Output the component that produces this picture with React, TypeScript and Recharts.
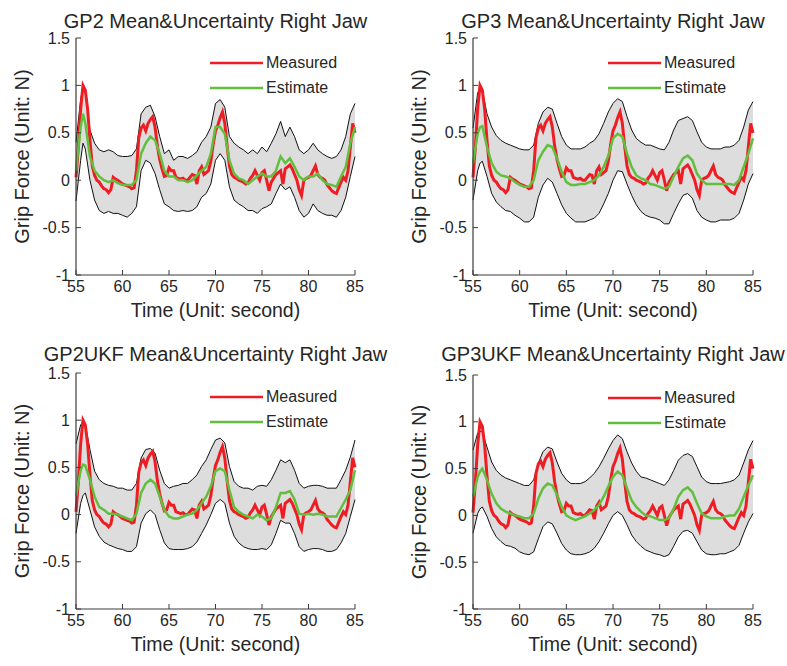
import React from 'react';
import { ComposedChart, Line, Area, XAxis, YAxis, Legend, Label } from 'recharts';

const FONT = '"Liberation Sans", Arial, sans-serif';
const TEXT = '#262626';

// x grid for the estimate / uncertainty series (seconds)
const TIME = [55, 55.5, 55.75, 56,
  56.5, 57, 57.5, 58, 58.5, 59, 59.5, 60, 60.5, 61, 61.5,
  62, 62.5, 63, 63.5, 64, 64.5, 65, 65.5, 66, 66.5, 67, 67.5, 68, 68.5, 69, 69.5,
  70, 70.5, 71, 71.5, 72, 72.5, 73, 73.5, 74, 74.5, 75, 75.5, 76, 76.5, 77, 77.5,
  78, 78.5, 79, 79.5, 80, 80.5, 81, 81.5, 82, 82.5, 83, 83.5, 84, 84.5, 85];

// measured grip force, sampled every 0.25 s from 55 to 85
const MEASURED = [
  0.03, 0.35, 0.75, 1.0,
  0.95, 0.75, 0.42, 0.15,
  0.05, 0.0, -0.02, -0.06,
  -0.09, -0.1, -0.13, -0.1,
  0.03, 0.01, 0.0, -0.02,
  -0.04, -0.05, -0.06, -0.07,
  -0.09, -0.08, 0.1, 0.45,
  0.55, 0.58, 0.52, 0.6,
  0.64, 0.67, 0.56, 0.36,
  0.22, 0.12, 0.04, 0.05,
  0.13, 0.1, 0.1, 0.03,
  0.02, 0.01, 0.02, 0.0,
  0.0, 0.03, 0.06, 0.05,
  -0.04, 0.1, 0.14, 0.06,
  0.08, 0.1, 0.2, 0.38,
  0.52, 0.58, 0.66, 0.72,
  0.6, 0.36, 0.15, 0.06,
  0.03, 0.02, 0.0, -0.01,
  -0.02, -0.04, -0.03, 0.02,
  0.05, 0.1, 0.05, 0.0,
  0.08, 0.1, 0.0, -0.11,
  -0.02, 0.02, 0.06, 0.08,
  0.1, -0.04, 0.12, 0.14,
  0.16, 0.12, 0.06, 0.0,
  -0.1, -0.16, 0.0, 0.02,
  0.03, 0.05, 0.1, 0.15,
  0.06, 0.03, 0.02, 0.0,
  -0.05, -0.08, -0.11, -0.13,
  -0.14, -0.08, -0.02, 0.03,
  0.0, 0.1, 0.35, 0.6,
  0.5];
const MEAS_TIME = MEASURED.map((_, i) => 55 + i * 0.25);

// GP2
const GP2_EST = [0.1, 0.56, 0.7, 0.6,
  0.25, 0.1, 0.04, 0.0, -0.02, 0.0, -0.03, -0.05, -0.05, -0.05, 0.0,
  0.28, 0.39, 0.46, 0.42, 0.28, 0.1, 0.04, 0.04, 0.0, 0.0, -0.02, 0.0, 0.05, 0.1, 0.14, 0.28,
  0.56, 0.56, 0.49, 0.21, 0.07, 0.02, 0.0, -0.04, 0.0, 0.04, 0.07, 0.04, 0.04, 0.1, 0.25, 0.18,
  0.23, 0.14, 0.04, 0.0, 0.04, 0.04, 0.07, 0.0, -0.04, -0.05, -0.07, 0.04, 0.14, 0.39, 0.56];
const GP2_HI = [0.4, 0.85, 1.0, 0.95,
  0.53, 0.39, 0.32, 0.3, 0.32, 0.3, 0.26, 0.25, 0.25, 0.26, 0.33,
  0.7, 0.77, 0.79, 0.67, 0.46, 0.28, 0.32, 0.21, 0.25, 0.25, 0.23, 0.26, 0.3, 0.4, 0.46, 0.56,
  0.81, 0.85, 0.77, 0.46, 0.39, 0.35, 0.32, 0.28, 0.32, 0.28, 0.35, 0.3, 0.39, 0.49, 0.62, 0.46,
  0.56, 0.46, 0.32, 0.28, 0.32, 0.39, 0.32, 0.28, 0.25, 0.23, 0.25, 0.32, 0.46, 0.7, 0.81];
const GP2_LO = [-0.22, 0.21, 0.39, 0.33,
  0.0, -0.21, -0.32, -0.35, -0.33, -0.35, -0.35, -0.37, -0.39, -0.35, -0.28,
  0.1, 0.21, 0.18, 0.07, -0.1, -0.25, -0.28, -0.32, -0.33, -0.32, -0.33, -0.32, -0.28, -0.18, -0.14, -0.04,
  0.21, 0.28, 0.21, -0.07, -0.21, -0.25, -0.28, -0.32, -0.32, -0.35, -0.3, -0.28, -0.25, -0.14, -0.04, -0.1,
  -0.07, -0.18, -0.32, -0.39, -0.35, -0.25, -0.32, -0.35, -0.37, -0.37, -0.39, -0.32, -0.18, 0.04, 0.25];

// GP3
const GP3_EST = [0.18, 0.49, 0.56, 0.57,
  0.35, 0.18, 0.09, 0.05, 0.04, 0.02, -0.02, -0.05, -0.07, -0.07, 0.0,
  0.21, 0.3, 0.37, 0.35, 0.23, 0.09, -0.02, -0.05, -0.05, -0.04, -0.04, -0.02, 0.0, 0.05, 0.14, 0.26,
  0.44, 0.49, 0.46, 0.28, 0.14, 0.05, 0.02, 0.0, -0.04, -0.05, -0.07, -0.09, -0.07, 0.04, 0.14, 0.23,
  0.26, 0.21, 0.07, 0.0, -0.04, -0.04, -0.04, -0.04, -0.04, -0.04, -0.05, 0.0, 0.14, 0.28, 0.44];
const GP3_HI = [0.55, 0.92, 0.97, 0.95,
  0.7, 0.56, 0.47, 0.42, 0.39, 0.37, 0.35, 0.33, 0.32, 0.32, 0.37,
  0.6, 0.72, 0.77, 0.75, 0.6, 0.46, 0.37, 0.33, 0.33, 0.33, 0.35, 0.39, 0.42, 0.49, 0.6, 0.72,
  0.81, 0.86, 0.83, 0.67, 0.53, 0.44, 0.4, 0.37, 0.37, 0.35, 0.33, 0.32, 0.4, 0.53, 0.63, 0.65,
  0.67, 0.63, 0.51, 0.4, 0.35, 0.33, 0.33, 0.33, 0.35, 0.35, 0.37, 0.42, 0.56, 0.74, 0.83];
const GP3_LO = [-0.21, 0.1, 0.18, 0.2,
  0.04, -0.14, -0.23, -0.28, -0.32, -0.33, -0.37, -0.4, -0.44, -0.44, -0.39,
  -0.18, -0.05, 0.02, -0.02, -0.14, -0.26, -0.35, -0.4, -0.44, -0.44, -0.44, -0.42, -0.4, -0.35, -0.25, -0.14,
  0.0, 0.1, 0.09, -0.04, -0.16, -0.26, -0.33, -0.37, -0.39, -0.4, -0.42, -0.46, -0.46, -0.35, -0.25, -0.16,
  -0.14, -0.19, -0.32, -0.39, -0.42, -0.44, -0.44, -0.42, -0.42, -0.42, -0.4, -0.35, -0.21, -0.04, 0.07];

// GP2UKF
const GP2UKF_EST = [0.2, 0.47, 0.53, 0.52,
  0.37, 0.19, 0.08, 0.05, 0.01, 0.01, 0.0, -0.02, -0.04, -0.06, 0.01,
  0.23, 0.33, 0.37, 0.33, 0.19, 0.05, -0.02, -0.04, -0.04, -0.02, 0.0, 0.01, 0.05, 0.12, 0.19, 0.3,
  0.46, 0.49, 0.46, 0.26, 0.08, 0.03, 0.0, -0.02, -0.04, 0.0, -0.02, -0.06, -0.04, 0.08, 0.23, 0.23,
  0.25, 0.16, 0.01, 0.0, 0.01, 0.0, 0.01, 0.0, -0.02, -0.02, -0.02, 0.07, 0.16, 0.26, 0.47];
const GP2UKF_HI = [0.75, 0.95, 0.98, 0.95,
  0.69, 0.46, 0.37, 0.33, 0.31, 0.3, 0.28, 0.28, 0.26, 0.26, 0.33,
  0.6, 0.69, 0.7, 0.65, 0.47, 0.33, 0.28, 0.3, 0.31, 0.33, 0.33, 0.37, 0.42, 0.51, 0.58, 0.69,
  0.79, 0.81, 0.76, 0.51, 0.35, 0.3, 0.28, 0.28, 0.26, 0.3, 0.31, 0.3, 0.37, 0.47, 0.58, 0.55,
  0.58, 0.47, 0.33, 0.28, 0.3, 0.31, 0.31, 0.3, 0.28, 0.28, 0.28, 0.37, 0.47, 0.61, 0.79];
const GP2UKF_LO = [-0.2, 0.12, 0.2, 0.23,
  0.05, -0.13, -0.23, -0.29, -0.32, -0.34, -0.36, -0.37, -0.39, -0.39, -0.34,
  -0.09, 0.01, 0.05, 0.0, -0.16, -0.3, -0.36, -0.37, -0.37, -0.37, -0.36, -0.34, -0.29, -0.2, -0.11, 0.0,
  0.12, 0.16, 0.12, -0.09, -0.23, -0.3, -0.34, -0.36, -0.37, -0.37, -0.36, -0.37, -0.32, -0.2, -0.06, -0.09,
  -0.09, -0.2, -0.34, -0.39, -0.37, -0.36, -0.36, -0.37, -0.39, -0.39, -0.37, -0.3, -0.2, -0.02, 0.16];

// GP3UKF
const GP3UKF_EST = [0.2, 0.41, 0.47, 0.5,
  0.38, 0.23, 0.13, 0.07, 0.04, 0.02, 0.0, -0.01, -0.03, -0.03, 0.02,
  0.18, 0.29, 0.34, 0.32, 0.22, 0.09, 0.0, -0.03, -0.05, -0.03, -0.01, 0.02, 0.06, 0.11, 0.2, 0.31,
  0.41, 0.47, 0.43, 0.29, 0.16, 0.09, 0.04, 0.0, -0.01, -0.03, -0.05, -0.05, -0.03, 0.07, 0.2, 0.27,
  0.3, 0.25, 0.13, 0.02, -0.01, -0.03, -0.03, -0.03, -0.01, 0.0, 0.0, 0.07, 0.2, 0.32, 0.43];
const GP3UKF_HI = [0.7, 0.88, 0.9, 0.89,
  0.73, 0.57, 0.48, 0.43, 0.4, 0.38, 0.36, 0.34, 0.32, 0.32, 0.38,
  0.56, 0.68, 0.73, 0.71, 0.57, 0.45, 0.38, 0.34, 0.34, 0.34, 0.36, 0.4, 0.45, 0.52, 0.61, 0.71,
  0.8, 0.86, 0.82, 0.68, 0.56, 0.47, 0.41, 0.4, 0.38, 0.36, 0.34, 0.32, 0.38, 0.48, 0.59, 0.64,
  0.66, 0.63, 0.52, 0.41, 0.36, 0.34, 0.34, 0.34, 0.35, 0.36, 0.38, 0.43, 0.56, 0.7, 0.8];
const GP3UKF_LO = [-0.19, 0.02, 0.07, 0.09,
  -0.01, -0.14, -0.23, -0.28, -0.32, -0.33, -0.35, -0.39, -0.41, -0.42, -0.39,
  -0.25, -0.12, -0.07, -0.09, -0.19, -0.3, -0.37, -0.41, -0.42, -0.42, -0.41, -0.39, -0.35, -0.28, -0.19, -0.09,
  0.0, 0.04, 0.0, -0.1, -0.21, -0.28, -0.33, -0.37, -0.39, -0.41, -0.42, -0.44, -0.42, -0.33, -0.23, -0.17,
  -0.16, -0.19, -0.28, -0.37, -0.41, -0.42, -0.42, -0.41, -0.41, -0.39, -0.37, -0.32, -0.19, -0.07, 0.02];

const X_TICKS = [55, 60, 65, 70, 75, 80, 85];
const Y_TICKS = [-1, -0.5, 0, 0.5, 1, 1.5];
const TITLES = [
  'GP2 Mean&Uncertainty Right Jaw',
  'GP3 Mean&Uncertainty Right Jaw',
  'GP2UKF Mean&Uncertainty Right Jaw',
  'GP3UKF Mean&Uncertainty Right Jaw',
];
const LEGEND_ORDER = ['Measured', 'Estimate'];
const X_LABEL = 'Time (Unit: second)';
const Y_LABEL = 'Grip Force (Unit: N)';

const RED = '#ee1d23';
const GREEN = '#62bf3e';
const BAND = '#dddddd';
const AXIS = '#3c3c3c';

const MEAS_TABLE = MEAS_TIME.map((t, i) => ({ t, meas: MEASURED[i] }));

const renderLegend = (props: any) => {
  const items = (props.payload || [])
    .filter((p: any) => LEGEND_ORDER.includes(p.value))
    .sort((a: any, b: any) => LEGEND_ORDER.indexOf(a.value) - LEGEND_ORDER.indexOf(b.value));
  return (
    <div>
      {items.map((p: any) => (
        <div key={p.value} style={{ display: 'flex', alignItems: 'center', height: 25 }}>
          <svg width={54} height={6} style={{ display: 'block' }}>
            <line x1={0} y1={3} x2={53} y2={3} stroke={p.color} strokeWidth={2.5} />
          </svg>
          <span style={{ fontSize: 16, fontFamily: FONT, color: TEXT, marginLeft: 2, lineHeight: '18px' }}>
            {p.value}
          </span>
        </div>
      ))}
    </div>
  );
};

type PanelProps = {
  title: string;
  est: number[];
  hi: number[];
  lo: number[];
  x: number;
  y: number;
  w: number;
  h: number;
  margin: { top: number; right: number; bottom: number; left: number };
  legendLeft: number;
  legendTop: number;
};

function Panel({ title, est, hi, lo, x, y, w, h, margin, legendLeft, legendTop }: PanelProps) {
  const data = TIME.map((t, i) => ({ t, lo: lo[i], hi: hi[i], est: est[i] }));
  const plotLeft = margin.left + 1;
  const plotW = w - plotLeft - margin.right;
  return (
    <div style={{ position: 'absolute', left: x, top: y, width: w, height: h }}>
      <ComposedChart width={w} height={h} data={data} margin={margin}>
        <Area
          type="linear"
          dataKey={(d: any) => [d.lo, d.hi]}
          stroke="none"
          fill={BAND}
          fillOpacity={1}
          isAnimationActive={false}
          legendType="none"
          activeDot={false}
        />
        <XAxis
          type="number"
          dataKey="t"
          domain={[55, 85]}
          ticks={X_TICKS}
          height={1}
          tickSize={-5}
          tickMargin={11}
          axisLine={{ stroke: AXIS, strokeWidth: 1.2 }}
          tickLine={{ stroke: AXIS }}
          tick={{ fill: TEXT, fontSize: 16, fontFamily: FONT }}
          interval={0}
        >
          <Label
            content={(p: any) => {
              const vb = p.viewBox || {};
              const cx = vb.x + vb.width / 2;
              const cy = vb.y + 35;
              return (
                <text x={cx} y={cy} textAnchor="middle" dominantBaseline="central" fill={TEXT} fontSize={19.5} fontFamily={FONT}>
                  {X_LABEL}
                </text>
              );
            }}
          />
        </XAxis>
        <YAxis
          type="number"
          domain={[-1, 1.5]}
          ticks={Y_TICKS}
          width={1}
          tickSize={-5}
          tickMargin={11}
          axisLine={{ stroke: AXIS, strokeWidth: 1.2 }}
          tickLine={{ stroke: AXIS }}
          tick={{ fill: TEXT, fontSize: 16, fontFamily: FONT }}
          interval={0}
        >
          <Label
            content={(p: any) => {
              const vb = p.viewBox || {};
              const cx = vb.x + vb.width - 54;
              const cy = vb.y + vb.height / 2;
              return (
                <text x={cx} y={cy} transform={`rotate(-90 ${cx} ${cy})`} textAnchor="middle" dominantBaseline="central" fill={TEXT} fontSize={20} fontFamily={FONT}>
                  {Y_LABEL}
                </text>
              );
            }}
          />
        </YAxis>
        <Line type="linear" dataKey="hi" stroke="#111" strokeWidth={1} dot={false} isAnimationActive={false} legendType="none" />
        <Line type="linear" dataKey="lo" stroke="#111" strokeWidth={1} dot={false} isAnimationActive={false} legendType="none" />
        <Line
          type="linear"
          data={MEAS_TABLE}
          dataKey="meas"
          name="Measured"
          stroke={RED}
          strokeWidth={3}
          dot={false}
          isAnimationActive={false}
        />
        <Line
          type="linear"
          dataKey="est"
          name="Estimate"
          stroke={GREEN}
          strokeWidth={2.5}
          dot={false}
          isAnimationActive={false}
        />
        <Legend
          layout="vertical"
          align="center"
          verticalAlign="middle"
          content={renderLegend}
          wrapperStyle={{ left: legendLeft, top: legendTop, width: 150, height: 50 }}
        />
      </ComposedChart>
      <div
        style={{
          position: 'absolute',
          left: plotLeft - 40,
          width: plotW + 80,
          top: 9,
          textAlign: 'center',
          fontSize: 20,
          lineHeight: '24px',
          fontFamily: FONT,
          color: TEXT,
          whiteSpace: 'nowrap',
        }}
      >
        {title}
      </div>
    </div>
  );
}

export default function App() {
  return (
    <div style={{ position: 'fixed', left: 0, top: 0, width: 787, height: 666, background: '#fff', overflow: 'hidden' }}>
      <Panel title={TITLES[0]} est={GP2_EST} hi={GP2_HI} lo={GP2_LO} x={0} y={0} w={395} h={333}
        margin={{ top: 38, right: 40, bottom: 57, left: 75 }} legendLeft={210} legendTop={50} />
      <Panel title={TITLES[1]} est={GP3_EST} hi={GP3_HI} lo={GP3_LO} x={395} y={0} w={392} h={333}
        margin={{ top: 38, right: 34, bottom: 57, left: 77 }} legendLeft={213} legendTop={50} />
      <Panel title={TITLES[2]} est={GP2UKF_EST} hi={GP2UKF_HI} lo={GP2UKF_LO} x={0} y={333} w={395} h={333}
        margin={{ top: 40, right: 40, bottom: 56, left: 75 }} legendLeft={210} legendTop={51} />
      <Panel title={TITLES[3]} est={GP3UKF_EST} hi={GP3UKF_HI} lo={GP3UKF_LO} x={395} y={333} w={392} h={333}
        margin={{ top: 42, right: 34, bottom: 56, left: 77 }} legendLeft={213} legendTop={52} />
    </div>
  );
}
